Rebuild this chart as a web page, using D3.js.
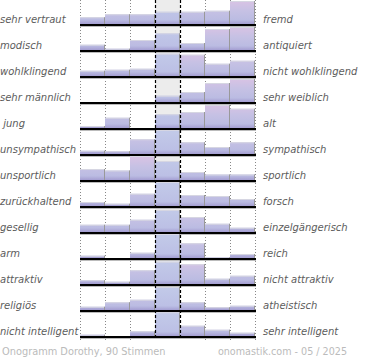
<!DOCTYPE html>
<html><head><meta charset="utf-8">
<script src="https://cdn.jsdelivr.net/npm/d3@7/dist/d3.min.js"></script>
<style>body{margin:0;background:#fff;}svg{display:block;}</style>
</head><body>
<script>
const leftLabels = ["sehr vertraut","modisch","wohlklingend","sehr männlich"," jung","unsympathisch","unsportlich","zurückhaltend","gesellig","arm","attraktiv","religiös","nicht intelligent"];
const rightLabels = ["fremd","antiquiert","nicht wohlklingend","sehr weiblich","alt","sympathisch","sportlich","forsch","einzelgängerisch","reich","nicht attraktiv","atheistisch","sehr intelligent"];
const columns = [1,2,3,4,5,6,7];
const row1 = [31,43,43,53,53,57,96];
const row2 = [25,9,44,71,32,88,96];
const row3 = [25,29,33,93,89,53,65];
const row4 = [0,0,4,29,44,80,96];
const row5 = [12,45,4,59,68,96,81];
const row6 = [17,15,63,100,51,32,51];
const row7 = [48,42,100,80,36,26,26];
const row8 = [20,13,53,100,48,44,32];
const row9 = [33,33,53,92,64,37,21];
const row10 = [13,0,25,100,63,7,20];
const row11 = [19,13,59,93,83,25,37];
const row12 = [17,35,45,96,35,15,21];
const row13 = [9,0,23,99,45,29,17];
const rows = [row1,row2,row3,row4,row5,row6,row7,row8,row9,row10,row11,row12,row13];
const footerLeft = "Onogramm Dorothy, 90 Stimmen";
const footerRight = "onomastik.com - 05 / 2025";

const W = 370, H = 360;
const svg = d3.select("body").append("svg").attr("width", W).attr("height", H);
const defs = svg.append("defs");

const x = d3.scaleBand().domain(columns).range([80, 255]).padding(0);
const yRow = d3.scaleBand().domain(d3.range(rows.length)).range([-1, 337]).padding(0);
const h = d3.scaleLinear().domain([0, 100]).range([0, 25]);

// middle column background
svg.append("rect").attr("x", x(4)).attr("y", 0).attr("width", x.bandwidth()).attr("height", 338).attr("fill", "#ececec");

// gradients per row
rows.forEach((r, i) => {
  const top = yRow(i), base = yRow(i) + yRow.bandwidth();
  const g = defs.append("linearGradient").attr("id", "g" + i).attr("gradientUnits", "userSpaceOnUse")
    .attr("x1", 0).attr("x2", 0).attr("y1", top).attr("y2", base);
  g.append("stop").attr("offset", 0).attr("stop-color", "#dcc3e4");
  g.append("stop").attr("offset", 0.45).attr("stop-color", "#c6c1e4");
  g.append("stop").attr("offset", 0.8).attr("stop-color", "#bbbce2");
  g.append("stop").attr("offset", 1).attr("stop-color", "#9f97ce");
  const gb = defs.append("linearGradient").attr("id", "gb" + i).attr("gradientUnits", "userSpaceOnUse")
    .attr("x1", 0).attr("x2", 0).attr("y1", top).attr("y2", base);
  gb.append("stop").attr("offset", 0).attr("stop-color", "#c3cbe9");
  gb.append("stop").attr("offset", 0.8).attr("stop-color", "#bcc0e5");
  gb.append("stop").attr("offset", 1).attr("stop-color", "#9f97ce");
});

// dotted grid lines
svg.selectAll("line.dot").data(columns.concat([8]).filter(c => c !== 4 && c !== 5))
  .enter().append("line")
  .attr("x1", c => (c === 8 ? x(7) + x.bandwidth() : x(c)) + 0.5)
  .attr("x2", c => (c === 8 ? x(7) + x.bandwidth() : x(c)) + 0.5)
  .attr("y1", 0).attr("y2", 340).attr("stroke", "#888").attr("stroke-width", 1).attr("stroke-dasharray", "1,2");

// bars
rows.forEach((r, i) => {
  const base = yRow(i) + yRow.bandwidth();
  const g = svg.append("g");
  const data = r.map((v, j) => ({v, c: columns[j]}));
  g.selectAll("rect").data(data).enter().append("rect")
    .attr("x", d => x(d.c)).attr("width", x.bandwidth())
    .attr("y", d => base - h(d.v)).attr("height", d => h(d.v))
    .attr("fill", d => d.c === 4 ? `url(#gb${i})` : `url(#g${i})`);
  g.selectAll("line.t").data(data.filter(d => d.v > 0)).enter().append("line")
    .attr("x1", d => x(d.c)).attr("x2", d => x(d.c) + x.bandwidth())
    .attr("y1", d => base - h(d.v) + 0.5).attr("y2", d => base - h(d.v) + 0.5)
    .attr("stroke", "#d6d6e2").attr("stroke-width", 1);
  g.selectAll("line.r").data(data.filter(d => d.v > 0)).enter().append("line")
    .attr("x1", d => x(d.c) + x.bandwidth() - 0.5).attr("x2", d => x(d.c) + x.bandwidth() - 0.5)
    .attr("y1", d => base - h(d.v)).attr("y2", base)
    .attr("stroke", "#999").attr("stroke-width", 1);
  g.append("line").attr("x1", 80).attr("x2", 256).attr("y1", base + 1.5).attr("y2", base + 1.5)
    .attr("stroke", "#bbb").attr("stroke-width", 1);
  g.append("line").attr("x1", 80).attr("x2", 256).attr("y1", base).attr("y2", base)
    .attr("stroke", "#000").attr("stroke-width", 2);
});

// dashed middle lines
[x(4), x(5)].forEach(px => {
  svg.append("line").attr("x1", px + 0.5).attr("x2", px + 0.5).attr("y1", 0).attr("y2", 340)
    .attr("stroke", "#000").attr("stroke-width", 1.2).attr("stroke-dasharray", "3,2");
});

// labels
const fontFam = "'DejaVu Sans', sans-serif";
svg.selectAll("text.l").data(leftLabels).enter().append("text")
  .attr("x", 0).attr("y", (d, i) => yRow(i) + yRow.bandwidth() - 2)
  .attr("font-family", fontFam).attr("font-size", 10).attr("font-style", "italic")
  .attr("fill", "#5c5c5c").attr("xml:space", "preserve").style("white-space", "pre").text(d => d);
svg.selectAll("text.r").data(rightLabels).enter().append("text")
  .attr("x", 263).attr("y", (d, i) => yRow(i) + yRow.bandwidth() - 2)
  .attr("font-family", fontFam).attr("font-size", 10).attr("font-style", "italic")
  .attr("fill", "#5c5c5c").text(d => d);

svg.append("text").attr("x", 2).attr("y", 355).attr("font-family", fontFam).attr("font-size", 9.8)
  .attr("fill", "#bbb").text(footerLeft);
svg.append("text").attr("x", 347).attr("y", 355).attr("text-anchor", "end").attr("font-family", fontFam).attr("font-size", 9.6)
  .attr("fill", "#bbb").text(footerRight);
</script>
</body></html>
